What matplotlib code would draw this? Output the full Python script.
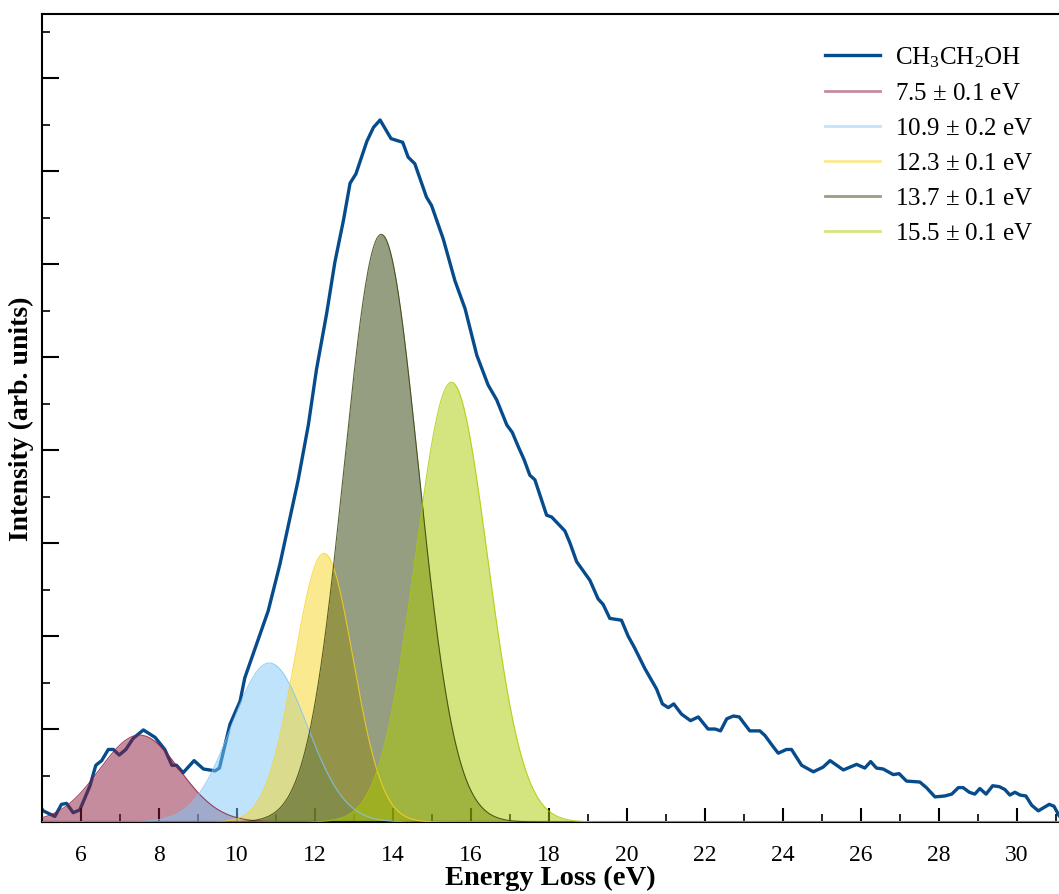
import matplotlib
matplotlib.use('Agg')
import matplotlib.pyplot as plt
import numpy as np
from matplotlib.ticker import MultipleLocator, NullFormatter

plt.rcParams['font.family'] = ['Liberation Serif', 'DejaVu Serif']
plt.rcParams['mathtext.fontset'] = 'custom'
plt.rcParams['mathtext.rm'] = 'Liberation Serif'
plt.rcParams['mathtext.it'] = 'Liberation Serif:italic'

energy = [5.0, 5.03, 5.33, 5.5, 5.63, 5.8, 5.97, 6.23, 6.38, 6.53, 6.7, 6.83, 6.98,
          7.15, 7.34, 7.6, 7.9, 8.15, 8.33, 8.45, 8.62, 8.9, 9.14, 9.44, 9.55,
          9.82, 10.08, 10.2, 10.55, 10.8, 11.1, 11.57, 11.83, 12.04, 12.3, 12.51,
          12.73, 12.9, 13.05, 13.33, 13.5, 13.67, 13.95, 14.25, 14.39, 14.56,
          14.86, 14.99, 15.29, 15.59, 15.85, 16.15, 16.44, 16.66, 16.92, 17.06,
          17.21, 17.36, 17.51, 17.64, 17.94, 18.07, 18.41, 18.54, 18.71, 19.05,
          19.26, 19.39, 19.56, 19.86, 20.03, 20.2, 20.46, 20.76, 20.91, 21.06,
          21.2, 21.4, 21.63, 21.83, 22.08, 22.26, 22.4, 22.56, 22.73, 22.88,
          23.15, 23.41, 23.54, 23.75, 23.88, 24.09, 24.22, 24.48, 24.78, 25.03,
          25.21, 25.55, 25.89, 26.1, 26.25, 26.4, 26.57, 26.83, 26.98, 27.17,
          27.51, 27.68, 27.9, 28.15, 28.33, 28.5, 28.62, 28.78, 28.92, 29.05,
          29.21, 29.38, 29.55, 29.69, 29.82, 29.95, 30.08, 30.23, 30.38, 30.55,
          30.83, 30.95, 31.08]
intensity = [0.14, 0.12, 0.06, 0.19, 0.20, 0.10, 0.13, 0.39, 0.61, 0.66, 0.78, 0.78, 0.72,
             0.78, 0.90, 0.99, 0.91, 0.78, 0.61, 0.61, 0.53, 0.66, 0.57, 0.55, 0.58,
             1.05, 1.30, 1.55, 1.97, 2.27, 2.77, 3.68, 4.27, 4.87, 5.47, 6.02,
             6.47, 6.87, 6.97, 7.32, 7.47, 7.55, 7.35, 7.31, 7.15, 7.08,
             6.72, 6.63, 6.27, 5.82, 5.52, 5.02, 4.70, 4.54, 4.27, 4.19,
             4.04, 3.90, 3.73, 3.68, 3.30, 3.28, 3.13, 3.00, 2.80, 2.60,
             2.40, 2.34, 2.19, 2.17, 2.00, 1.87, 1.65, 1.43, 1.27, 1.23,
             1.27, 1.16, 1.09, 1.13, 1.00, 1.00, 0.98, 1.11, 1.14, 1.13,
             0.98, 0.98, 0.93, 0.81, 0.74, 0.78, 0.78, 0.61, 0.54, 0.59,
             0.66, 0.56, 0.62, 0.58, 0.65, 0.58, 0.57, 0.51, 0.52, 0.44,
             0.43, 0.37, 0.27, 0.28, 0.30, 0.37, 0.37, 0.32, 0.30, 0.36,
             0.30, 0.39, 0.38, 0.35, 0.29, 0.32, 0.29, 0.28, 0.18, 0.12,
             0.19, 0.17, 0.07]

# fitted gaussian components: centre, width, height
peak_labels = [r'7.5 $\pm$ 0.1 eV', r'10.9 $\pm$ 0.2 eV', r'12.3 $\pm$ 0.1 eV',
               r'13.7 $\pm$ 0.1 eV', r'15.5 $\pm$ 0.1 eV']
peak_centers = [7.5, 10.83, 12.23, 13.7, 15.5]
peak_sigmas = [1.02, 0.97, 0.75, 0.95, 0.92]
peak_heights = [0.935, 1.71, 2.89, 6.32, 4.73]
peak_colors = ['#8B1A3A', '#7EC8F8', '#F9D423', '#2F3F05', '#AACC00']

fig = plt.figure(figsize=(10.59, 8.95), dpi=100)
ax = fig.add_axes([42 / 1059, 72 / 895, 1017 / 1059, 808 / 895])

ax.plot(energy, intensity, color='#064C8C', lw=2.4, zorder=1,
        label=r'CH$_3$CH$_2$OH')

xs = np.linspace(5, 31.1, 800)
for c, s, h, col, lab in zip(peak_centers, peak_sigmas, peak_heights,
                             peak_colors, peak_labels):
    g = h * np.exp(-0.5 * ((xs - c) / s) ** 2)
    ax.fill_between(xs, 0, g, color=col, alpha=0.5, lw=0, zorder=2)
    ax.plot(xs, g, color=col, lw=0.8, alpha=0.8, zorder=3)
    ax.plot([], [], color=col, alpha=0.5, lw=2, label=lab)

ax.set_xlim(5, 31.08)
ax.set_ylim(0, 8.69)
ax.xaxis.set_major_locator(MultipleLocator(2))
ax.xaxis.set_minor_locator(MultipleLocator(1))
ax.yaxis.set_major_locator(MultipleLocator(1))
ax.yaxis.set_minor_locator(MultipleLocator(0.5))
ax.yaxis.set_major_formatter(NullFormatter())
ax.tick_params(axis='x', which='major', direction='in', length=10, width=1.5,
               labelsize=17, pad=15.5, top=False)
ax.tick_params(axis='x', which='minor', direction='in', length=6, width=1.2, top=False)
ax.tick_params(axis='y', which='major', direction='in', length=12, width=1.5, right=False)
ax.tick_params(axis='y', which='minor', direction='in', length=6, width=1.2, right=False)
for side in ['left', 'bottom', 'top']:
    ax.spines[side].set_linewidth(1.5)
ax.spines['right'].set_visible(False)

ax.set_xlabel('Energy Loss (eV)', fontsize=20.5, fontweight='bold', labelpad=0)
ax.set_ylabel('Intensity (arb. units)', fontsize=20, fontweight='bold', labelpad=2)

ax.legend(loc='upper left', bbox_to_anchor=(0.770, 0.962), frameon=False,
          fontsize=18, handlelength=2.2, handletextpad=0.6, labelspacing=0.5,
          borderaxespad=0, borderpad=0)

fig.savefig('out.png', dpi=100)
